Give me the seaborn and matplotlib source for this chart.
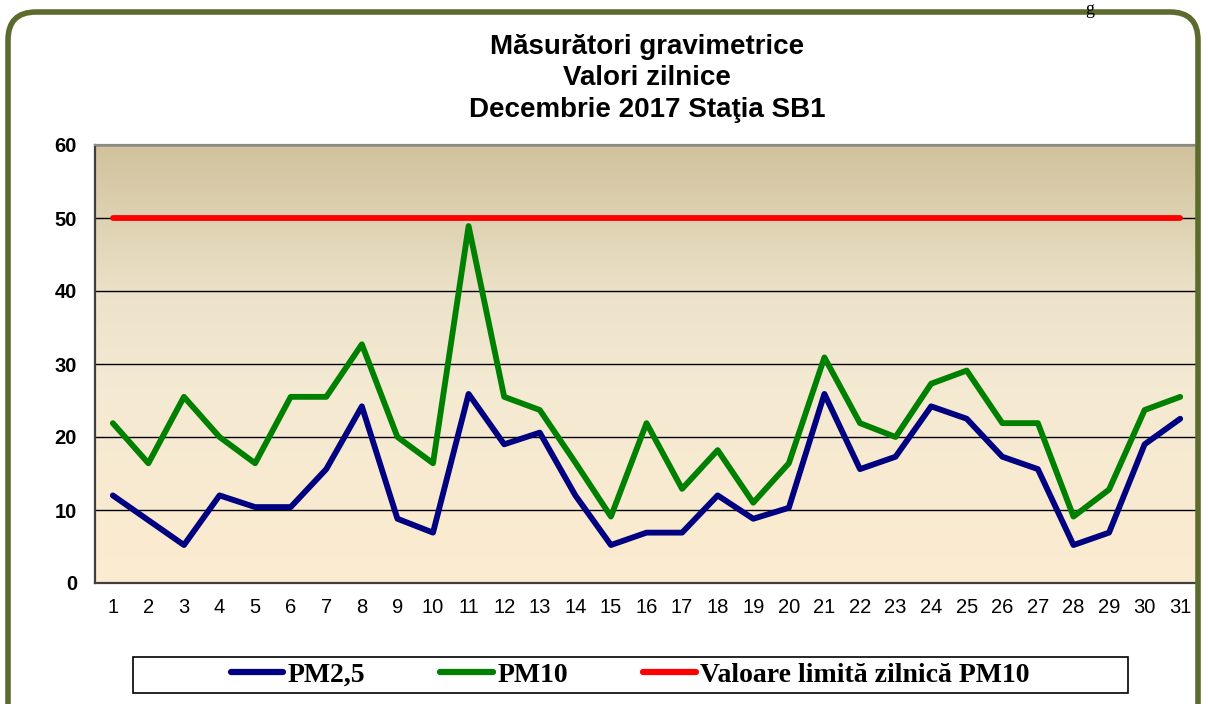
import numpy as np
import pandas as pd
import matplotlib
matplotlib.use("Agg")
import matplotlib.pyplot as plt
from matplotlib.patches import FancyBboxPatch, Rectangle
from matplotlib.lines import Line2D
from matplotlib.colors import LinearSegmentedColormap
from matplotlib.transforms import IdentityTransform
import seaborn as sns

# Daily values, December 2017, station SB1 (ug/m3)
days = list(range(1, 32))
pm25 = [12.0, 8.6, 5.2, 12.0, 10.4, 10.4, 15.6, 24.2, 8.8, 6.9,
        25.9, 19.0, 20.6, 12.0, 5.2, 6.9, 6.9, 12.0, 8.8, 10.3,
        25.9, 15.6, 17.3, 24.2, 22.5, 17.3, 15.6, 5.2, 6.9, 19.0, 22.5]
pm10 = [21.9, 16.4, 25.5, 20.0, 16.4, 25.5, 25.5, 32.7, 20.0, 16.4,
        48.9, 25.5, 23.7, 16.5, 9.1, 21.9, 12.9, 18.2, 11.0, 16.4,
        30.9, 21.9, 20.0, 27.3, 29.1, 21.9, 21.9, 9.1, 12.8, 23.7, 25.5]
limit_pm10 = [50] * 31

series_names = ["PM2,5", "PM10", "Valoare limită zilnică PM10"]
series_colors = ["#000080", "#008000", "#FF0000"]
y_ticks = [0, 10, 20, 30, 40, 50, 60]
title_lines = ["Măsurători gravimetrice", "Valori zilnice", "Decembrie 2017 Staţia SB1"]

sns.set_style("white")
plt.rcParams["font.family"] = ["Liberation Sans", "DejaVu Sans"]
plt.rcParams["text.color"] = "black"
plt.rcParams["xtick.color"] = "black"
plt.rcParams["ytick.color"] = "black"

df = pd.DataFrame({
    "zi": days * 3,
    "valoare": pm25 + pm10 + limit_pm10,
    "serie": [series_names[0]] * len(days) + [series_names[1]] * len(days)
             + [series_names[2]] * len(days),
})

W, H = 1209, 704
fig = plt.figure(figsize=(W / 100, H / 100), dpi=100)
fig.patch.set_facecolor("white")

# rounded olive frame around the whole chart
frame = FancyBboxPatch((8, -40), 1190, 732, boxstyle="round,pad=0,rounding_size=28",
                       transform=IdentityTransform(), facecolor="none",
                       edgecolor="#5b6b2e", linewidth=4)
fig.add_artist(frame)

# stray letter from the page above
fig.text(1085 / W, 1 - 1 / H, "g", fontsize=13, family="Liberation Serif",
         ha="left", va="top")

ax = fig.add_axes([95 / W, 1 - 583 / H, 1103 / W, 438 / H])

# beige gradient plot area
grad_cmap = LinearSegmentedColormap.from_list(
    "bg", [(0.0, "#fcecd0"), (0.45, "#f4e9d2"), (0.65, "#ede3ca"), (1.0, "#d1c29c")])
ax.imshow(np.linspace(0, 1, 256).reshape(-1, 1), extent=[0, 1, 0, 1],
          transform=ax.transAxes, aspect="auto", cmap=grad_cmap, origin="lower", zorder=-1)

sns.lineplot(data=df, x="zi", y="valoare", hue="serie", hue_order=series_names,
             palette=dict(zip(series_names, series_colors)), linewidth=4.2,
             solid_capstyle="round", legend=False, ax=ax, zorder=3)

ax.set_xlim(0.5, 31.5)
ax.set_ylim(0, 60)
ax.set_xlabel("")
ax.set_ylabel("")

ax.set_yticks(y_ticks)
ax.set_yticklabels([str(t) for t in y_ticks], fontsize=14.5, fontweight="bold")
ax.set_xticks(days)
ax.set_xticklabels([str(d) for d in days], fontsize=14.5)
ax.set_xticks(np.arange(0.5, 32, 1), minor=True)
ax.tick_params(axis="x", which="major", length=0, pad=11)
ax.tick_params(axis="x", which="minor", length=6, width=1.2, color="#404040", direction="out")
ax.tick_params(axis="y", length=5, width=1.2, color="#404040", direction="out", pad=8)

ax.grid(axis="y", color="black", linewidth=1)
ax.set_axisbelow(True)
for side, sp in ax.spines.items():
    sp.set_color("#8a8a8a")
    sp.set_linewidth(1.6)
ax.spines["left"].set_color("#404040")
ax.spines["bottom"].set_color("#404040")

# title
for text, y in zip(title_lines, [47, 78, 110]):
    fig.text(647 / W, 1 - y / H, text, ha="center", va="center",
             fontsize=20, fontweight="bold")

# legend box with square corners
fig.add_artist(Rectangle((133, H - 693), 995, 36, transform=IdentityTransform(),
                         facecolor="white", edgecolor="black", linewidth=1.2))
handles = [Line2D([], [], color=c, linewidth=4.5, solid_capstyle="round") for c in series_colors]
fig.legend(handles, series_names, loc="center", bbox_to_anchor=(630 / W, 1 - 675 / H),
           ncol=3, frameon=False, handlelength=1.9, handletextpad=0.15, columnspacing=2.7,
           prop={"family": "Liberation Serif", "weight": "bold", "size": 20})

plt.savefig("out.png", dpi=100)
plt.close()
